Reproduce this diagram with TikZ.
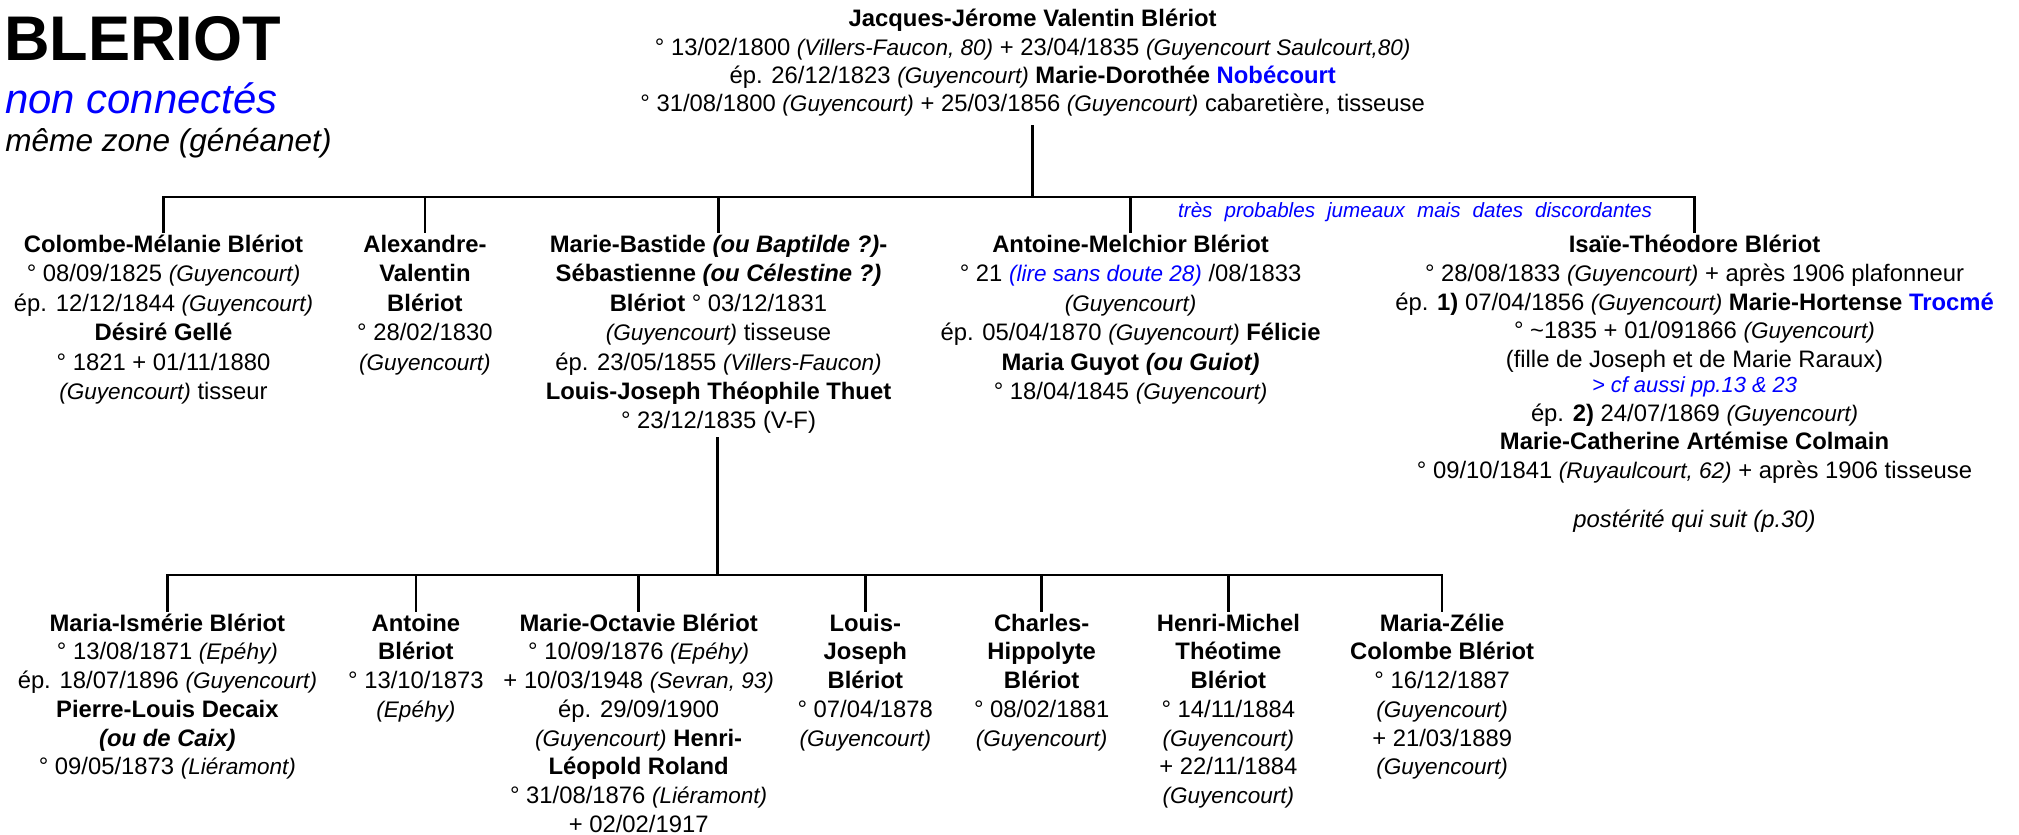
\documentclass[tikz,border=0pt]{standalone}
\usepackage{fontspec}
\setmainfont{Liberation Sans}
\definecolor{lienblue}{RGB}{0,0,255}
\newcommand\pl[1]{{\fontsize{17.5}{22}\selectfont\itshape #1}}
\newcommand\cfs[1]{{\fontsize{17}{19}\selectfont\itshape\color{lienblue}#1}}
\newcommand\fl{\rule{0pt}{16pt}}
\tikzset{
  person/.style={align=center, inner sep=0pt, anchor=north, font=\fontsize{18.5}{22.8}\selectfont},
  conn/.style={line width=2pt, draw=black, line cap=rect},
}
\begin{document}
\begin{tikzpicture}[x=1pt, y=-1pt]
\useasboundingbox (0,0) rectangle (1568,648);
% titles
\node[anchor=base west, inner sep=0pt, font=\fontsize{49}{55}\selectfont\bfseries] (title) at (3,46.6) {BLERIOT};
\node[anchor=base west, inner sep=0pt, font=\fontsize{32.5}{36}\selectfont\itshape, text=lienblue] (nc) at (4,88) {non connectés};
\node[anchor=base west, inner sep=0pt, font=\fontsize{24.5}{28}\selectfont\itshape] (zone) at (4,117.5) {même zone (généanet)};

% parents
\node[person, font=\fontsize{18.5}{22}\selectfont] (top) at (802,4.7) {\fl\textbf{Jacques-Jérome Valentin Blériot}\\
° 13/02/1800 \pl{(Villers-Faucon, 80)} + 23/04/1835 \pl{(Guyencourt Saulcourt,80)}\\
ép. 26/12/1823 \pl{(Guyencourt)} \textbf{Marie-Dorothée \textcolor{lienblue}{Nobécourt}}\\
° 31/08/1800 \pl{(Guyencourt)} + 25/03/1856 \pl{(Guyencourt)} cabaretière, tisseuse};

% generation 1
\node[person] (c1) at (127,180) {\fl\textbf{Colombe-Mélanie Blériot}\\
° 08/09/1825 \pl{(Guyencourt)}\\
ép. 12/12/1844 \pl{(Guyencourt)}\\
\textbf{Désiré Gellé}\\
° 1821 + 01/11/1880\\
\pl{(Guyencourt)} tisseur};
\node[person] (c2) at (330,180) {\fl\textbf{Alexandre-}\\
\textbf{Valentin}\\
\textbf{Blériot}\\
° 28/02/1830\\
\pl{(Guyencourt)}};
\node[person] (c3) at (558,180) {\fl\textbf{Marie-Bastide \textit{(ou Baptilde ?)}-}\\
\textbf{Sébastienne \textit{(ou Célestine ?)}}\\
\textbf{Blériot} ° 03/12/1831\\
\pl{(Guyencourt)} tisseuse\\
ép. 23/05/1855 \pl{(Villers-Faucon)}\\
\textbf{Louis-Joseph Théophile Thuet}\\
° 23/12/1835 (V-F)};
\node[person] (c4) at (878,180) {\fl\textbf{Antoine-Melchior Blériot}\\
° 21 \textcolor{lienblue}{\pl{(lire sans doute 28)}} /08/1833\\
\pl{(Guyencourt)}\\
ép. 05/04/1870 \pl{(Guyencourt)} \textbf{Félicie}\\
\textbf{Maria Guyot \textit{(ou Guiot)}}\\
° 18/04/1845 \pl{(Guyencourt)}};
\node[person, font=\fontsize{18.5}{22.3}\selectfont] (c5) at (1316,180) {\fl\textbf{Isaïe-Théodore Blériot}\\
° 28/08/1833 \pl{(Guyencourt)} + après 1906 plafonneur\\
ép. \textbf{1)} 07/04/1856 \pl{(Guyencourt)} \textbf{Marie-Hortense \textcolor{lienblue}{Trocmé}}\\
° \string~1835 + 01/091866 \pl{(Guyencourt)}\\
(fille de Joseph et de Marie Raraux)\\[-3pt]
\cfs{> cf aussi pp.13 \& 23}\\
ép. \textbf{2)} 24/07/1869 \pl{(Guyencourt)}\\
\textbf{Marie-Catherine Artémise Colmain}\\
° 09/10/1841 \pl{(Ruyaulcourt, 62)} + après 1906 tisseuse\\[16pt]
\textit{postérité qui suit (p.30)}};

\node[anchor=base, inner sep=0pt, font=\fontsize{16}{19}\selectfont\itshape, text=lienblue] (note) at (1099,169) {\makebox[368pt][s]{très probables jumeaux mais dates discordantes}};

% generation 2
\node[person, font=\fontsize{18.5}{22.3}\selectfont] (g1) at (130,474) {\fl\textbf{Maria-Ismérie Blériot}\\
° 13/08/1871 \pl{(Epéhy)}\\
ép. 18/07/1896 \pl{(Guyencourt)}\\
\textbf{Pierre-Louis Decaix}\\
\textbf{\textit{(ou de Caix)}}\\
° 09/05/1873 \pl{(Liéramont)}};
\node[person, font=\fontsize{18.5}{22.3}\selectfont] (g2) at (323,474) {\fl\textbf{Antoine}\\
\textbf{Blériot}\\
° 13/10/1873\\
\pl{(Epéhy)}};
\node[person, font=\fontsize{18.5}{22.3}\selectfont] (g3) at (496,474) {\fl\textbf{Marie-Octavie Blériot}\\
° 10/09/1876 \pl{(Epéhy)}\\
+ 10/03/1948 \pl{(Sevran, 93)}\\
ép. 29/09/1900\\
\pl{(Guyencourt)} \textbf{Henri-}\\
\textbf{Léopold Roland}\\
° 31/08/1876 \pl{(Liéramont)}\\
+ 02/02/1917};
\node[person, font=\fontsize{18.5}{22.3}\selectfont] (g4) at (672,474) {\fl\textbf{Louis-}\\
\textbf{Joseph}\\
\textbf{Blériot}\\
° 07/04/1878\\
\pl{(Guyencourt)}};
\node[person, font=\fontsize{18.5}{22.3}\selectfont] (g5) at (809,474) {\fl\textbf{Charles-}\\
\textbf{Hippolyte}\\
\textbf{Blériot}\\
° 08/02/1881\\
\pl{(Guyencourt)}};
\node[person, font=\fontsize{18.5}{22.3}\selectfont] (g6) at (954,474) {\fl\textbf{Henri-Michel}\\
\textbf{Théotime}\\
\textbf{Blériot}\\
° 14/11/1884\\
\pl{(Guyencourt)}\\
+ 22/11/1884\\
\pl{(Guyencourt)}};
\node[person, font=\fontsize{18.5}{22.3}\selectfont] (g7) at (1120,474) {\fl\textbf{Maria-Zélie}\\
\textbf{Colombe Blériot}\\
° 16/12/1887\\
\pl{(Guyencourt)}\\
+ 21/03/1889\\
\pl{(Guyencourt)}};

% connectors
\coordinate (b1) at (802,153);
\coordinate (b2) at (557,446.6);
\draw[conn] ([yshift=-7pt]top.south) -- (top.south |- b1);
\draw[conn] (c1.north |- b1) -- (c5.north |- b1);
\foreach \n in {c1,c2,c3,c4,c5} \draw[conn] (\n.north |- b1) -- (\n.north);
\draw[conn] ([yshift=-3pt]c3.south -| b2) -- (b2);
\draw[conn] (g1.north |- b2) -- (g7.north |- b2);
\foreach \n in {g1,g2,g3,g4,g5,g6,g7} \draw[conn] (\n.north |- b2) -- (\n.north);
\end{tikzpicture}
\end{document}
